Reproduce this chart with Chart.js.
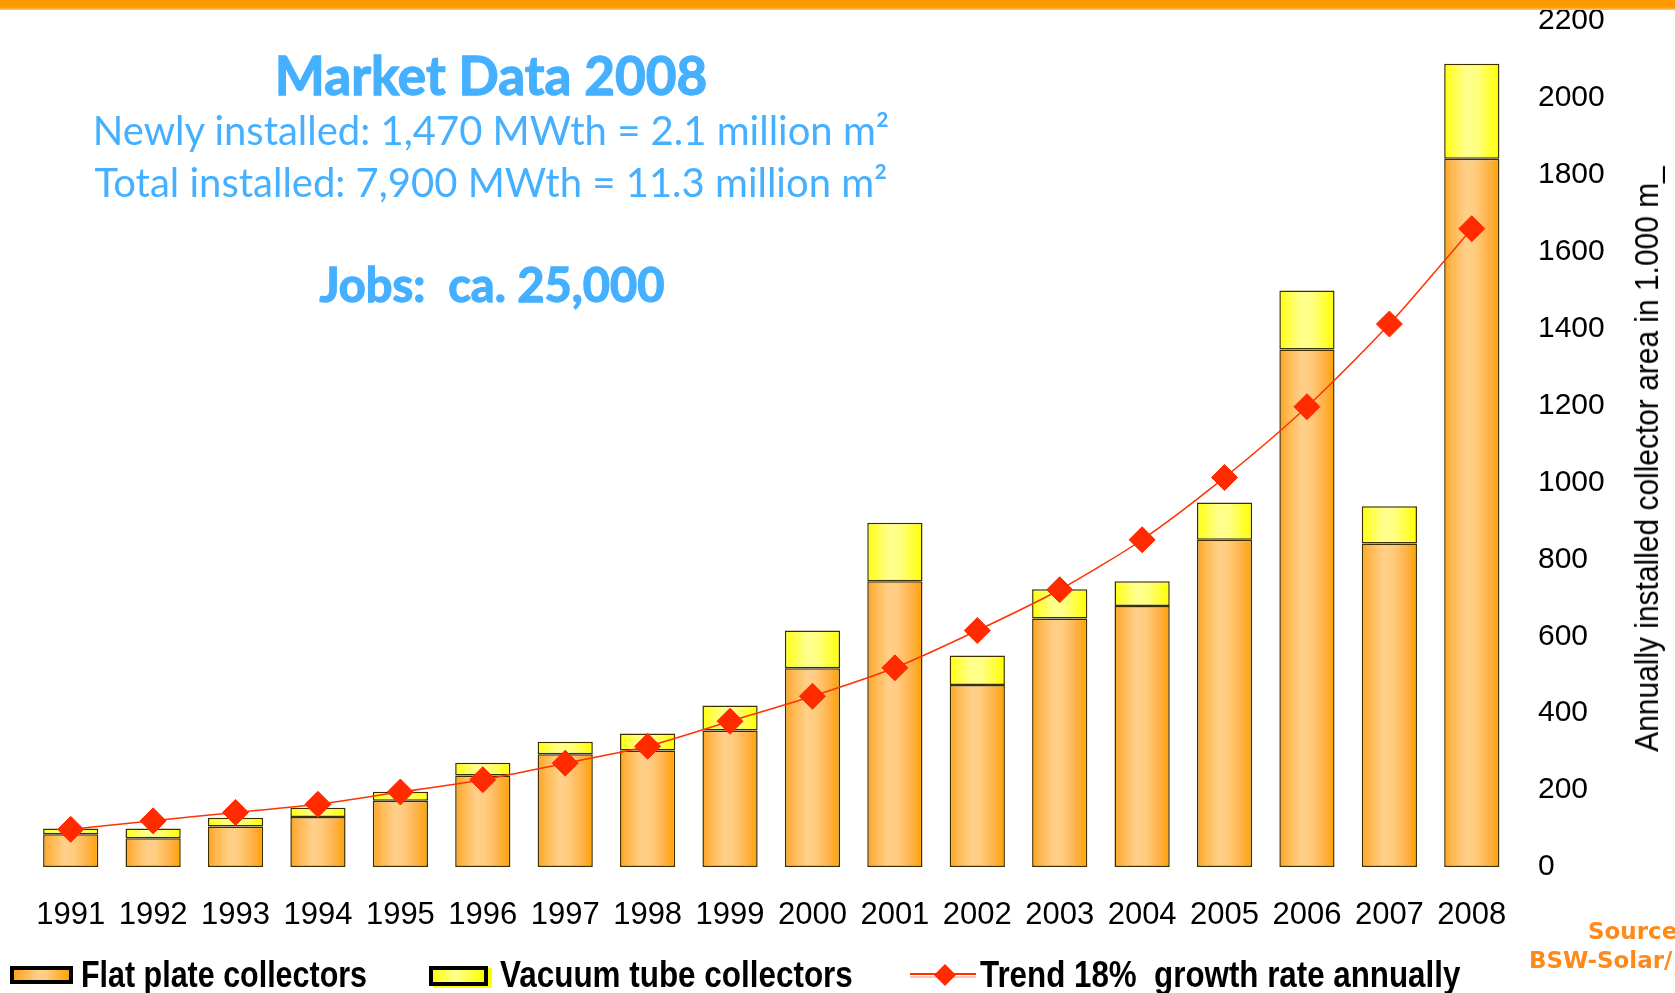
<!DOCTYPE html>
<html>
<head>
<meta charset="utf-8">
<script src="https://cdn.jsdelivr.net/npm/chart.js@4"></script>
<style>
  body { margin: 0; width: 1675px; height: 993px; overflow: hidden; background: #fff; position: relative; }
  #topbar { position: absolute; left: 0; top: 0; width: 1675px; height: 10px;
    background: linear-gradient(#ff9900 0, #ff9900 70%, #ffc46e 100%); z-index: 2; }
  canvas { position: absolute; left: 0; top: 0; }
  .blue { position: absolute; color: #45b0ff; font-family: Lato, "Open Sans", sans-serif;
    line-height: 1; white-space: nowrap; transform: translateX(-50%); }
  .heavy { font-weight: bold; -webkit-text-stroke: 1.3px #45b0ff; }
  .lg { position: absolute; font-family: "Liberation Sans", sans-serif; font-weight: bold; font-size: 36px;
    line-height: 1; white-space: nowrap; color: #000; transform-origin: 0 50%; }
  .box { position: absolute; box-sizing: border-box; border: 4px solid #000; }
  .src { position: absolute; font-family: "DejaVu Sans", sans-serif; font-weight: bold; font-size: 23px;
    line-height: 1; color: #ff8a1a; white-space: nowrap; }
  #ytitle { position: absolute; left: 1646px; top: 459px;
    transform: translate(-50%, -50%) rotate(-90deg) scale(0.88, 1);
    font-family: "Liberation Sans", sans-serif; font-size: 34px; line-height: 1;
    white-space: nowrap; color: #000; }
</style>
</head>
<body>
<div id="topbar"></div>
<canvas id="chart" width="1675" height="993"></canvas>

<div class="blue heavy" style="left:491px; top:48px; font-size:53px;">Market Data 2008</div>
<div class="blue" style="left:491px; top:110px; font-size:40px;">Newly installed: 1,470 MWth = 2.1 million m²</div>
<div class="blue" style="left:491px; top:162px; font-size:40px;">Total installed: 7,900 MWth = 11.3 million m²</div>
<div class="blue heavy" style="left:492px; top:261px; font-size:47px;">Jobs:&nbsp;&nbsp;ca. 25,000</div>

<div id="ytitle">Annually installed collector area in 1.000 m_</div>

<div class="src" style="left:1588px; top:920px;">Sources:</div>
<div class="src" style="left:1529px; top:949px;">BSW-Solar/</div>

<!-- legend -->
<div class="box" style="left:10px; top:966px; width:63px; height:18px;
  background:linear-gradient(to right,#ffa31f,#ffd08a 45%,#ffcc80 60%,#ffa200);"></div>
<div class="lg" style="left:81px; top:957px; transform:scaleX(0.846);">Flat plate collectors</div>
<div class="box" style="left:429px; top:966px; width:59px; height:20px; box-shadow:4px 2px 0 #ffff00;
  background:linear-gradient(to right,#ffff10,#ffff90 45%,#ffff00);"></div>
<div class="lg" style="left:500px; top:957px; transform:scaleX(0.873);">Vacuum tube collectors</div>
<svg style="position:absolute; left:908px; top:962px;" width="70" height="26">
  <line x1="2" y1="12" x2="68" y2="12" stroke="#ff3300" stroke-width="2"/>
  <line x1="2" y1="15" x2="68" y2="15" stroke="#ffb4a0" stroke-width="1.5"/>
  <polygon points="37,2 48,13 37,24 26,13" fill="#ff2a00"/>
</svg>
<div class="lg" style="left:980px; top:957px; transform:scaleX(0.87);">Trend 18%&nbsp; growth rate annually</div>

<script>
const years = ["1991", "1992", "1993", "1994", "1995", "1996", "1997", "1998", "1999",
  "2000", "2001", "2002", "2003", "2004", "2005", "2006", "2007", "2008"];
// 1.000 m² per year
const flatPlate = [85, 75, 105, 130, 172, 238, 293, 303, 355, 517, 743, 473, 646, 679, 851, 1346, 841, 1842];
const vacuumTube = [15, 25, 23, 24, 24, 33, 33, 44, 65, 98, 152, 77, 76, 64, 97, 153, 97, 247];
const trend = [98, 120, 142, 163, 195, 227, 270, 314, 379, 444, 518, 615, 721, 851, 1013, 1197, 1412, 1660];
const yMin = 0, yMax = 2200, yStep = 200;

const barPct = 0.67;
const orangeStops = [[0, "#ffa31f"], [0.15, "#ffb850"], [0.4, "#ffd08a"], [0.55, "#ffcc80"], [0.8, "#ffb24a"], [1, "#ffa200"]];
const yellowStops = [[0, "#ffff10"], [0.4, "#ffff90"], [0.6, "#ffff80"], [1, "#ffff00"]];

// horizontal gradient across each bar
function barGradient(context, stops) {
  const chart = context.chart;
  const xs = chart.scales.x;
  if (!xs || context.dataIndex === undefined || !xs.width) return stops[2][1];
  const cx = xs.getPixelForValue(context.dataIndex);
  const half = (xs.width / years.length) * barPct / 2;
  const g = chart.ctx.createLinearGradient(cx - half, 0, cx + half, 0);
  stops.forEach(([o, c]) => g.addColorStop(o, c));
  return g;
}

const ctx = document.getElementById("chart").getContext("2d");
const chart = new Chart(ctx, {
  data: {
    labels: years,
    datasets: [
      {
        type: "line",
        label: "Trend 18% growth rate annually",
        data: trend,
        stack: "trend",
        order: 0,
        borderColor: "#ff3300",
        borderWidth: 1.5,
        tension: 0.25,
        pointStyle: "rectRot",
        pointRadius: 13,
        pointBackgroundColor: "#ff2a00",
        pointBorderColor: "#ff2a00",
        pointBorderWidth: 1,
      },
      {
        type: "bar",
        label: "Flat plate collectors",
        data: flatPlate,
        stack: "collectors",
        order: 1,
        backgroundColor: (c) => barGradient(c, orangeStops),
        borderColor: "#3d3000",
        borderWidth: 1.5,
        borderSkipped: false,
        categoryPercentage: 1,
        barPercentage: barPct,
      },
      {
        type: "bar",
        label: "Vacuum tube collectors",
        data: vacuumTube,
        stack: "collectors",
        order: 1,
        backgroundColor: (c) => barGradient(c, yellowStops),
        borderColor: "#3d3000",
        borderWidth: 1.5,
        borderSkipped: false,
        categoryPercentage: 1,
        barPercentage: barPct,
      },
    ],
  },
  options: {
    responsive: false,
    devicePixelRatio: 1,
    animation: false,
    layout: { padding: { top: 3, left: 29.5, right: 0, bottom: 0 } },
    plugins: {
      legend: { display: false },
      tooltip: { enabled: false },
    },
    scales: {
      x: {
        stacked: true,
        grid: { display: false, drawTicks: false },
        border: { display: false },
        ticks: {
          color: "#000",
          padding: 30,
          maxRotation: 0,
          autoSkip: false,
          font: { family: "'Liberation Sans', sans-serif", size: 31 },
        },
        afterFit: (s) => { s.height = 126; },
      },
      y: {
        stacked: true,
        position: "right",
        min: yMin,
        max: yMax,
        // invisible tick marks push the labels out without adding top padding
        grid: { display: false, drawTicks: true, tickLength: 22 },
        border: { display: false },
        ticks: {
          stepSize: yStep,
          color: "#000",
          padding: 3,
          font: { family: "'Liberation Sans', Arial, sans-serif", size: 30 },
          callback: (v) => String(v),
        },
        afterFit: (s) => { s.width = 162; },
      },
    },
  },
});
</script>
</body>
</html>
